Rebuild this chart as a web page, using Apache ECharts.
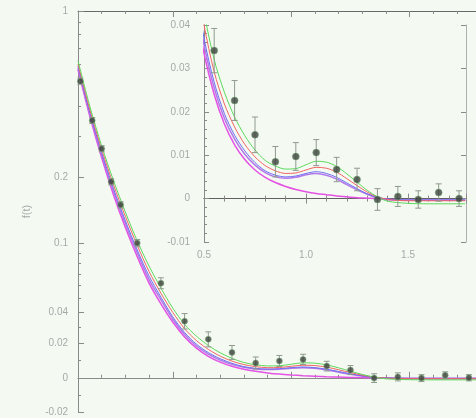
<!DOCTYPE html>
<html>
<head>
<meta charset="utf-8">
<script src="https://cdn.jsdelivr.net/npm/echarts@6/dist/echarts.min.js"></script>
<style>
  html, body { margin: 0; padding: 0; background: #f4faf2; }
  #main { width: 476px; height: 418px; }
</style>
</head>
<body>
<div id="main"></div>
<script>
// measured points with error bars
const tPts = [0.11, 0.16, 0.2, 0.24, 0.28, 0.35, 0.45, 0.55, 0.65, 0.75, 0.85, 0.95, 1.05, 1.15, 1.25, 1.35, 1.45, 1.55, 1.65, 1.75];
const fPts = [0.51, 0.349, 0.265, 0.191, 0.151, 0.1005, 0.062, 0.0341, 0.0226, 0.0147, 0.0085, 0.0097, 0.0106, 0.0067, 0.0044, -0.0002, 0.0005, -0.0002, 0.0014, 0.0];
const fErr = [0.015, 0.01, 0.008, 0.006, 0.005, 0.004, 0.0045, 0.0051, 0.0046, 0.0041, 0.0035, 0.0032, 0.003, 0.0028, 0.0026, 0.0025, 0.0023, 0.002, 0.002, 0.0018];

// model curves
const tCurve = [0.1, 0.15, 0.2, 0.25, 0.3, 0.35, 0.4, 0.45, 0.5, 0.55, 0.6, 0.65, 0.7, 0.75, 0.8, 0.85, 0.9, 0.95, 1.0, 1.05, 1.1, 1.15, 1.2, 1.25, 1.3, 1.35, 1.4, 1.5, 1.6, 1.7, 1.78];
const fGreen = [0.62, 0.40, 0.272, 0.193, 0.14, 0.103, 0.077, 0.058, 0.043, 0.032, 0.0245, 0.0188, 0.0145, 0.0112, 0.0088, 0.0075, 0.0068, 0.0069, 0.0078, 0.0086, 0.0084, 0.0074, 0.0057, 0.0038, 0.0019, 0.0004, -0.0006, -0.0011, -0.0012, -0.0012, -0.0012];
const fRed = [0.6, 0.387, 0.263, 0.185, 0.134, 0.098, 0.072, 0.054, 0.04, 0.0292, 0.0218, 0.0165, 0.0125, 0.0096, 0.0076, 0.0064, 0.0058, 0.0059, 0.0066, 0.0072, 0.007, 0.0061, 0.0046, 0.003, 0.0015, 0.0004, -0.0002, -0.0005, -0.0005, -0.0005, -0.0005];
const fBlue = [0.59, 0.378, 0.255, 0.178, 0.128, 0.093, 0.068, 0.051, 0.037, 0.0268, 0.0196, 0.0146, 0.011, 0.0083, 0.0064, 0.0054, 0.005, 0.0052, 0.0058, 0.0062, 0.0058, 0.0049, 0.0036, 0.0023, 0.0011, 0.0003, -0.0001, -0.0003, -0.0003, -0.0003, -0.0003];
const fPurple = [0.58, 0.371, 0.249, 0.173, 0.124, 0.09, 0.065, 0.049, 0.0355, 0.0255, 0.0185, 0.0137, 0.0102, 0.0077, 0.006, 0.005, 0.0047, 0.0049, 0.0055, 0.0058, 0.0054, 0.0045, 0.0032, 0.002, 0.001, 0.0002, -0.0002, -0.0004, -0.0004, -0.0004, -0.0004];
const fMagenta = [0.57, 0.363, 0.242, 0.167, 0.119, 0.086, 0.062, 0.046, 0.0335, 0.024, 0.0172, 0.0124, 0.009, 0.0066, 0.0049, 0.0037, 0.0028, 0.0021, 0.0016, 0.0012, 0.0009, 0.0006, 0.0004, 0.0002, 0.0001, 0, -0.0002, -0.0004, -0.0004, -0.0004, -0.0004];

// main y axis ticks (asinh scale)
const yMajor = [-0.02, 0, 0.02, 0.04, 0.1, 0.2, 1];
const yMinor = [-0.01, 0.01, 0.03, 0.05, 0.06, 0.07, 0.08, 0.09, 0.15, 0.3, 0.4, 0.5, 0.6, 0.7, 0.8, 0.9];
const xMajor = [0.5, 1.0, 1.5];

const C = 0.06;
const T = v => Math.asinh(v / C);

const curves = [
  { d: fMagenta, color: '#e452e4', w: 1.5 },
  { d: fPurple, color: '#b278ea', w: 1.5 },
  { d: fBlue, color: '#6e6ef2', w: 1 },
  { d: fRed, color: '#f26464', w: 1 },
  { d: fGreen, color: '#5cd85c', w: 1 }
];

const axisCol = '#8a8a8a';
const labelCol = '#a8a8a8';

function errRender(params, api) {
  const x = api.value(0);
  const pLo = api.coord([x, api.value(1)]);
  const pHi = api.coord([x, api.value(2)]);
  const w = 3;
  const style = { stroke: '#8f9a8f', lineWidth: 1 };
  return {
    type: 'group',
    children: [
      { type: 'line', shape: { x1: pLo[0], y1: pLo[1], x2: pHi[0], y2: pHi[1] }, style: style },
      { type: 'line', shape: { x1: pLo[0] - w, y1: pLo[1], x2: pLo[0] + w, y2: pLo[1] }, style: style },
      { type: 'line', shape: { x1: pHi[0] - w, y1: pHi[1], x2: pHi[0] + w, y2: pHi[1] }, style: style }
    ]
  };
}

const fmtMain = val => {
  const v = C * Math.sinh(val);
  if (Math.abs(v) < 1e-9) return '0';
  return String(parseFloat(v.toPrecision(3)));
};

const chart = echarts.init(document.getElementById('main'));

const series = [];
curves.forEach(c => {
  series.push({
    type: 'line', xAxisIndex: 0, yAxisIndex: 0, showSymbol: false, smooth: 0.3, silent: true,
    data: tCurve.map((t, i) => [t, T(c.d[i])]),
    lineStyle: { color: c.color, width: c.w }, z: 2
  });
});
series.push({
  type: 'custom', xAxisIndex: 0, yAxisIndex: 0, renderItem: errRender, z: 3,
  data: tPts.map((t, i) => [t, T(fPts[i] - fErr[i]), T(fPts[i] + fErr[i])])
});
series.push({
  type: 'scatter', xAxisIndex: 0, yAxisIndex: 0, symbolSize: 6, z: 4,
  itemStyle: { color: '#3b423b', borderColor: '#7fae7f', borderWidth: 0.6 },
  data: tPts.map((t, i) => [t, T(fPts[i])])
});
curves.forEach(c => {
  series.push({
    type: 'line', xAxisIndex: 4, yAxisIndex: 2, showSymbol: false, smooth: 0.3, silent: true, clip: true,
    data: tCurve.map((t, i) => [t, c.d[i]]).filter(p => p[0] >= 0.4),
    lineStyle: { color: c.color, width: c.w }, z: 2
  });
});
const insetIdx = tPts.map((t, i) => i).filter(i => tPts[i] >= 0.5);
series.push({
  type: 'custom', xAxisIndex: 4, yAxisIndex: 2, renderItem: errRender, z: 3, clip: true,
  data: insetIdx.map(i => [tPts[i], fPts[i] - fErr[i], fPts[i] + fErr[i]])
});
series.push({
  type: 'scatter', xAxisIndex: 4, yAxisIndex: 2, symbolSize: 7, z: 4,
  itemStyle: { color: '#3b423b', borderColor: '#7fae7f', borderWidth: 0.6 },
  data: insetIdx.map(i => [tPts[i], fPts[i]])
});

const hidden = { show: false };
const option = {
  backgroundColor: '#f4faf2',
  animation: false,
  grid: [
    { left: 78, top: 11, right: 0, bottom: 6 },
    { left: 204, top: 25, right: 10, bottom: 176 }
  ],
  xAxis: [
    { type: 'value', gridIndex: 0, min: 0.1, max: 1.78, position: 'bottom',
      axisLine: { lineStyle: { color: axisCol } },
      axisTick: { inside: true, length: 6, customValues: xMajor, lineStyle: { color: axisCol } },
      axisLabel: hidden, splitLine: hidden },
    { type: 'value', gridIndex: 0, min: 0.1, max: 1.78, interval: 0.1, position: 'bottom',
      axisLine: hidden, axisTick: { inside: true, length: 3, lineStyle: { color: axisCol } },
      axisLabel: hidden, splitLine: hidden },
    { type: 'value', gridIndex: 0, min: 0.1, max: 1.78, position: 'top',
      axisLine: { lineStyle: { color: '#6a6a6a' } },
      axisTick: { inside: true, length: 6, customValues: xMajor, lineStyle: { color: axisCol } },
      axisLabel: hidden, splitLine: hidden },
    { type: 'value', gridIndex: 0, min: 0.1, max: 1.78, interval: 0.1, position: 'top',
      axisLine: hidden, axisTick: { inside: true, length: 3, lineStyle: { color: axisCol } },
      axisLabel: hidden, splitLine: hidden },
    { type: 'value', gridIndex: 1, min: 0.5, max: 1.784, interval: 0.5, position: 'bottom',
      axisLine: { lineStyle: { color: axisCol } },
      axisTick: { inside: true, length: 5, lineStyle: { color: axisCol } },
      minorTick: { show: true, splitNumber: 5, length: 3, lineStyle: { color: axisCol } },
      axisLabel: { color: labelCol, fontSize: 10, margin: 8, showMaxLabel: false, formatter: v => v.toFixed(1) },
      splitLine: hidden },
    { type: 'value', gridIndex: 1, min: 0.5, max: 1.784, interval: 0.5, position: 'top',
      axisLine: { lineStyle: { color: '#5f5f5f' } },
      axisTick: { inside: true, length: 5, lineStyle: { color: axisCol } },
      minorTick: { show: true, splitNumber: 5, length: 3, lineStyle: { color: axisCol } },
      axisLabel: hidden, splitLine: hidden }
  ],
  yAxis: [
    { type: 'value', gridIndex: 0, min: T(-0.02), max: T(1), position: 'left',
      name: 'f(t)', nameLocation: 'middle', nameGap: 46, nameRotate: 90,
      nameTextStyle: { color: labelCol, fontSize: 11 },
      axisLine: { show: true, lineStyle: { color: axisCol } },
      axisTick: { inside: true, length: 6, customValues: yMajor.map(T), lineStyle: { color: axisCol } },
      axisLabel: { color: labelCol, fontSize: 10, margin: 10, customValues: yMajor.map(T), formatter: fmtMain },
      splitLine: hidden },
    { type: 'value', gridIndex: 0, min: T(-0.02), max: T(1), position: 'left',
      axisLine: hidden,
      axisTick: { inside: true, length: 3, customValues: yMinor.map(T), lineStyle: { color: axisCol } },
      axisLabel: hidden, splitLine: hidden },
    { type: 'value', gridIndex: 1, min: -0.01, max: 0.04, interval: 0.01, position: 'left',
      axisLine: { show: true, lineStyle: { color: axisCol } },
      axisTick: { inside: true, length: 5, lineStyle: { color: axisCol } },
      minorTick: { show: true, splitNumber: 5, length: 3, lineStyle: { color: axisCol } },
      axisLabel: { color: labelCol, fontSize: 10, margin: 14, formatter: v => Math.abs(v) < 1e-9 ? '0' : v.toFixed(2) },
      splitLine: hidden },
    { type: 'value', gridIndex: 1, min: -0.01, max: 0.04, interval: 0.01, position: 'right',
      axisLine: { show: true, lineStyle: { color: '#b0b0b0' } },
      axisTick: { inside: true, length: 5, lineStyle: { color: axisCol } },
      axisLabel: hidden, splitLine: hidden }
  ],
  series: series
};
chart.setOption(option);
</script>
</body>
</html>
